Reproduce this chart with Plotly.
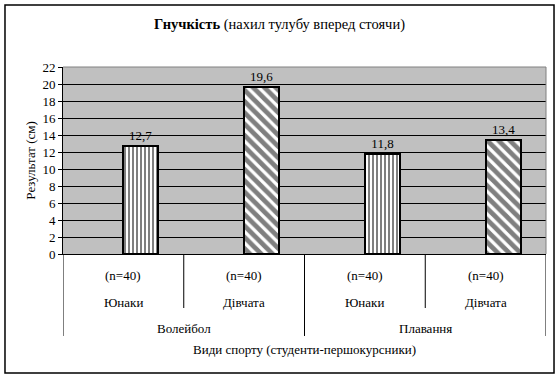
import plotly.graph_objects as go

sports = ["Волейбол", "Плавання"]
groups = ["Юнаки", "Дівчата", "Юнаки", "Дівчата"]
n_labels = ["(n=40)", "(n=40)", "(n=40)", "(n=40)"]
boys_values = [12.7, 11.8]
girls_values = [19.6, 13.4]
y_ticks = list(range(0, 23, 2))

FONT = "Liberation Serif"
FS = 13

def lbl(v):
    return f"{v:.1f}".replace(".", ",")

boys_x = [0, 2]
girls_x = [1, 3]

fig = go.Figure()
fig.add_trace(go.Bar(
    x=boys_x, y=boys_values, width=0.29, offset=0,
    text=[lbl(v) for v in boys_values], textposition="outside",
    textfont=dict(family=FONT, size=FS, color="black"),
    marker=dict(color="white", line=dict(color="black", width=2),
                pattern=dict(shape="|", fgcolor="black", bgcolor="white", size=4, solidity=0.5)),
    cliponaxis=False, showlegend=False, name="Юнаки"))
fig.add_trace(go.Bar(
    x=girls_x, y=girls_values, width=0.29, offset=0,
    text=[lbl(v) for v in girls_values], textposition="outside",
    textfont=dict(family=FONT, size=FS, color="black"),
    marker=dict(color="white", line=dict(color="black", width=2),
                pattern=dict(shape="\\", fgcolor="black", bgcolor="white", size=8, solidity=0.6)),
    cliponaxis=False, showlegend=False, name="Дівчата"))

fig.update_layout(
    width=560, height=378,
    margin=dict(l=63, r=14, t=67, b=124),
    paper_bgcolor="white", plot_bgcolor="#C0C0C0",
    barmode="overlay",
    font=dict(family=FONT, size=FS, color="black"),
    bargap=0,
)
fig.update_xaxes(range=[-0.5, 3.5], showticklabels=False, showgrid=False, zeroline=False,
                 showline=True, linecolor="black", linewidth=1, ticks="")
fig.update_yaxes(range=[0, 22], tickvals=y_ticks, showgrid=True, gridcolor="black", gridwidth=1,
                 zeroline=False, showline=True, linecolor="black", linewidth=1,
                 ticks="outside", ticklen=4, tickcolor="black",
                 tickfont=dict(family=FONT, size=FS, color="black"))

shapes = []
# outer border
shapes.append(dict(type="rect", xref="paper", yref="paper", x0=-0.1201, x1=1.0166, y0=-0.6364, y1=1.3316,
                   line=dict(color="black", width=1.5), fillcolor="rgba(0,0,0,0)"))
# plot area top/right border grey
shapes.append(dict(type="line", xref="paper", yref="paper", x0=0, x1=1, y0=1, y1=1,
                   line=dict(color="#808080", width=1)))
shapes.append(dict(type="line", xref="paper", yref="paper", x0=1, x1=1, y0=0, y1=1,
                   line=dict(color="#808080", width=1)))
# category dividers
n = len(groups)
for i in range(n + 1):
    xb = i - 0.5
    long_line = (i % 2 == 0)
    shapes.append(dict(type="line", xref="x", yref="paper", x0=xb, x1=xb, y0=0,
                       y1=-0.4385 if long_line else -0.2888,
                       line=dict(color="black", width=1)))
fig.update_layout(shapes=shapes)

ann = []
for i, (g, nl) in enumerate(zip(groups, n_labels)):
    ann.append(dict(x=i, y=-0.1123, xref="x", yref="paper", text=nl, showarrow=False,
                    font=dict(family=FONT, size=FS), yanchor="middle"))
    ann.append(dict(x=i, y=-0.2567, xref="x", yref="paper", text=g, showarrow=False,
                    font=dict(family=FONT, size=FS), yanchor="middle"))
for j, s in enumerate(sports):
    ann.append(dict(x=2 * j + 0.5, y=-0.401, xref="x", yref="paper", text=s, showarrow=False,
                    font=dict(family=FONT, size=FS), yanchor="middle"))
ann.append(dict(x=0.5, y=-0.513, xref="paper", yref="paper", text="Види спорту (студенти-першокурсники)",
                showarrow=False, font=dict(family=FONT, size=FS), yanchor="middle"))
ann.append(dict(x=-0.068, y=0.5, xref="paper", yref="paper", text="Результат (см)", textangle=-90,
                showarrow=False, font=dict(family=FONT, size=FS), xanchor="center", yanchor="middle"))
ann.append(dict(x=0.4482, y=1.2246, xref="paper", yref="paper",
                text="<b>Гнучкість</b> (нахил тулубу вперед стоячи)",
                showarrow=False, font=dict(family=FONT, size=14.5), yanchor="middle"))
fig.update_layout(annotations=ann)

fig.write_html("out.html", config={"displayModeBar": False},
               post_script="document.body.style.margin='0px';")
